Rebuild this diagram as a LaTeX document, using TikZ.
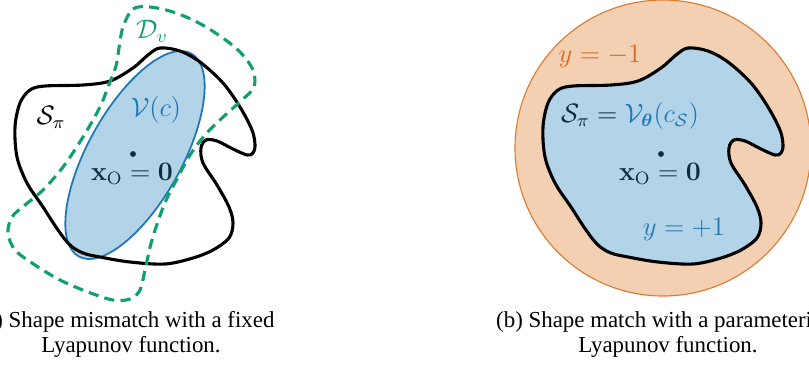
\documentclass[tikz,border=0pt]{standalone}
\usepackage{amsmath,amssymb}
\usepackage{bm}
\usepackage[no-math]{fontspec}
\newfontfamily\capfont{Liberation Serif}
\definecolor{myblue}{HTML}{1F77B4}
\definecolor{bluefill}{HTML}{B3D3E9}
\definecolor{mygreen}{HTML}{109E73}
\definecolor{orfill}{HTML}{F3D0B2}
\definecolor{orline}{HTML}{DD7A30}
\definecolor{ortext}{HTML}{D9691F}
\definecolor{navytxt}{HTML}{0E2B40}
\tikzset{
  mathlbl/.style={font=\large, inner sep=0pt},
  caplbl/.style={font=\capfont\fontsize{10.3}{11}\selectfont, inner sep=0pt, anchor=base},
  blobline/.style={line width=1.4pt, draw=black, line join=round},
  dashgreen/.style={draw=mygreen, line width=1.4pt, dash pattern=on 4.6pt off 2.8pt},
  origindot/.style={circle, fill=navytxt, inner sep=0pt, minimum size=2.6pt},
}
\def\blob{plot[smooth cycle, tension=0.55] coordinates {
  (160,48) (180,51) (200,62) (223,83) (240,107) (252,130) (255,145) (253,153)
  (247,155) (233,149) (217,141) (206,140) (201,148) (203,163) (217,185)
  (229,207) (233,223) (229,238) (213,250) (193,258) (165,264) (130,262)
  (100,257) (83,253) (70,245) (58,230) (43,207) (27,183) (17,157) (15,127)
  (20,103) (30,90) (45,86) (83,85) (110,81) (133,68) (148,55)}}
\begin{document}
\begin{tikzpicture}[x=0.45pt,y=-0.45pt]
\clip (0,0) rectangle (809,370);
% ---------- left panel ----------
\filldraw[fill=bluefill, draw=myblue, line width=0.8pt, rotate around={61:(135,155)}]
  (135,155) ellipse [x radius=116, y radius=47];
\draw[blobline] \blob;
\draw[dashgreen] plot[smooth cycle, tension=0.55] coordinates {
  (123,27) (133,9) (150,7) (173,12) (197,22) (220,36) (240,52) (253,70)
  (254,87) (242,100) (222,118) (205,135) (190,155) (178,177) (164,205)
  (152,240) (145,270) (140,290) (130,299) (113,300) (88,292) (60,280)
  (35,265) (15,250) (8,233) (12,217) (25,205) (43,190) (63,167) (83,137)
  (100,107) (108,87) (116,66) (119,48)};
\node[mathlbl, text=mygreen] (Dv) at (152,31) {$\mathcal{D}_v$};
\node[mathlbl] (SpiL) at (51,117) {$\mathcal{S}_\pi$};
\node[mathlbl, text=myblue] (Vc) at (156,110) {$\mathcal{V}(c)$};
\node[origindot] (dotL) at (133,154) {};
\node[mathlbl, text=navytxt] (xoL) at (132,174) {$\mathbf{x}_{\mathrm{O}}=\mathbf{0}$};
% ---------- right panel ----------
\filldraw[fill=orfill, draw=orline, line width=0.5pt] (663,148) circle [radius=148];
\begin{scope}[shift={(528,0)}]
  \filldraw[fill=bluefill, blobline] \blob;
\end{scope}
\node[mathlbl, text=ortext] (ym) at (600,56) {$y=-1$};
\node[mathlbl, text=navytxt] (SV) at (630,116) {$\mathcal{S}_\pi={\color{myblue}\mathcal{V}_{\boldsymbol{\theta}}(c_{\mathcal{S}})}$};
\node[origindot] (dotR) at (661,154) {};
\node[mathlbl, text=navytxt] (xoR) at (660,174) {$\mathbf{x}_{\mathrm{O}}=\mathbf{0}$};
\node[mathlbl, text=myblue] (yp) at (684,229) {$y=+1$};
% ---------- captions ----------
\node[caplbl] (capa1) at (126,327) {(a) Shape mismatch with a fixed};
\node[caplbl] (capa2) at (131,352) {Lyapunov function.};
\node[caplbl] (capb1) at (670,327) {(b) Shape match with a parameterized};
\node[caplbl] (capb2) at (668,352) {Lyapunov function.};
\end{tikzpicture}
\end{document}
